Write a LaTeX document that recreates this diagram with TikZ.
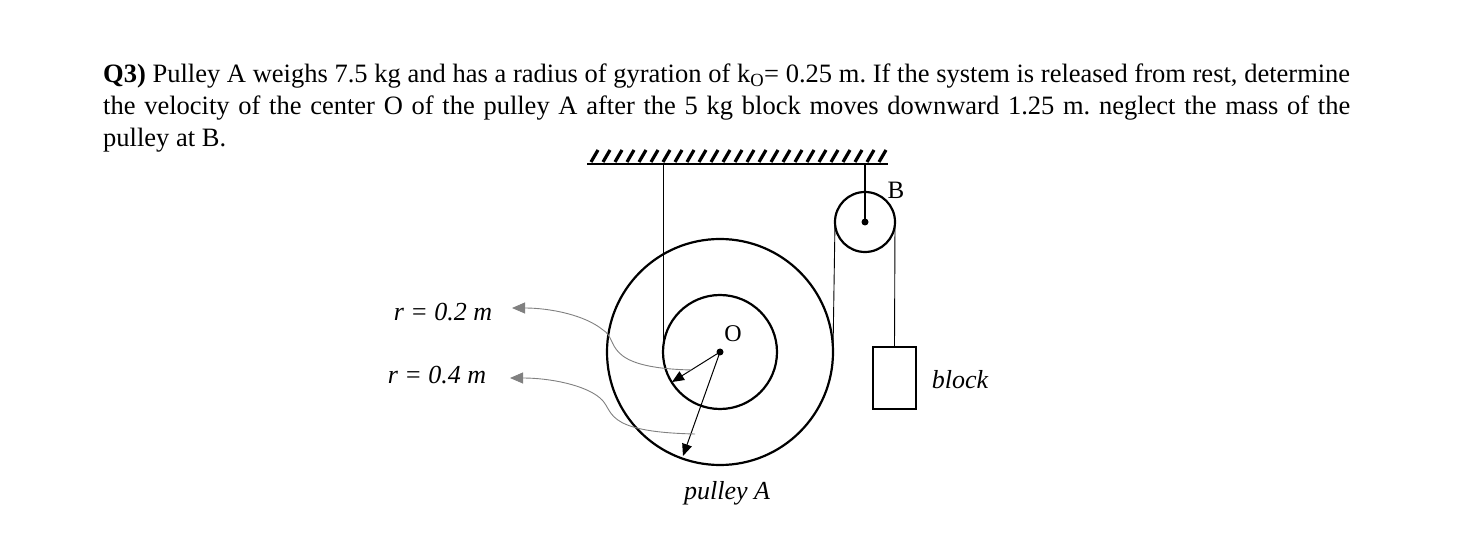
\documentclass[tikz,border=0pt]{standalone}
\usepackage{fontspec}
\setmainfont{Liberation Serif}
\usetikzlibrary{arrows.meta}
\begin{document}
\begin{tikzpicture}[x=1pt, y=-1pt,
    wheel/.style={draw, line width=2.2pt},
    rope/.style={draw, line width=0.9pt},
    radius arrow/.style={-{Triangle[length=12pt, width=10pt]}, line width=1pt},
    leader/.style={gray, line width=0.9pt, -{Triangle[length=13pt, width=11pt]}},
    lab/.style={font=\fontsize{26}{26}\selectfont\itshape}
]
\useasboundingbox (0,0) rectangle (1484,534);

% problem text
\node[anchor=north west, inner sep=0pt, text width=1247pt, align=justify,
  font=\fontsize{26.5}{32}\selectfont] (question) at (103,64)
  {\textbf{Q3)} Pulley A weighs 7.5 kg and has a radius of gyration of k\textsubscript{O}= 0.25 m.\ If the system is released from rest, determine the velocity of the center O of the pulley A after the 5 kg block moves downward 1.25 m.\ neglect the mass of the\linebreak pulley at B.};

% ceiling
\draw[line width=1.6pt] (587,164) -- (888,164);
\foreach \i in {0,...,24}
  \draw[line width=3.2pt] (591+12*\i,162) -- (598+12*\i,150);

% pulley A
\coordinate (O) at (720,352);
\draw[wheel] (O) circle (113);
\draw[wheel] (O) circle (57);
\fill (O) circle (3.5);
\node[font=\fontsize{24}{24}\selectfont] (Olab) at (733,334) {O};

% pulley B
\coordinate (B) at (865,222);
\draw[wheel] (B) circle (30);
\draw[line width=2pt] (865,164) -- (B);
\fill (B) circle (3.5);
\node[font=\fontsize{25}{25}\selectfont] (Blab) at (896,190) {B};

% block
\node[draw, line width=2pt, minimum width=43pt, minimum height=62pt, inner sep=0pt]
  (block) at (894.5,378) {};
\node[lab] (blocklab) at (960,380) {block};

% ropes
\coordinate (c1) at (663,164);
\coordinate (c2) at (663,352);
\coordinate (b1) at (835,222);
\coordinate (b2) at (833,352);
\coordinate (b3) at (895,222);
\draw[rope] (c1) -- (c2);
\draw[rope] (b2) -- (b1);
\draw[rope] (b3) -- (block.north);

% radii
\coordinate (ri) at (672,382);
\coordinate (ro) at (683,456);
\draw[radius arrow] (O) -- (ri);
\draw[radius arrow] (O) -- (ro);

% labels
\node[lab, inner sep=0pt] (r1) at (443,312) {r = 0.2 m};
\node[lab, inner sep=0pt] (r2) at (437,375) {r = 0.4 m};
\coordinate (t1) at (512,308);
\coordinate (t2) at (510,378);
\draw[leader] (692,370) .. controls (600,368) and (620,340) .. (603,330)
  .. controls (585,315) and (550,308) .. (t1);
\draw[leader] (695,434) .. controls (600,432) and (615,410) .. (600,398)
  .. controls (585,385) and (550,378) .. (t2);

\node[lab] (pulleylab) at (727,493) {pulley A};
\end{tikzpicture}
\end{document}
